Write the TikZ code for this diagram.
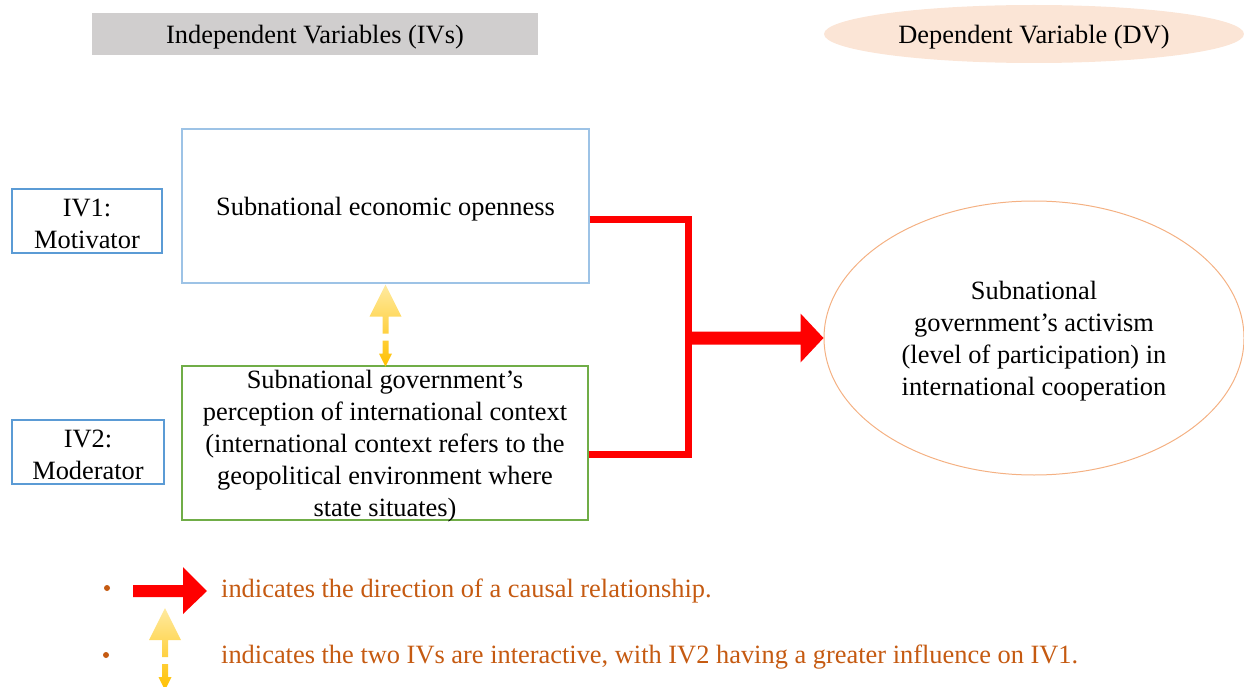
\documentclass[tikz,border=0pt]{standalone}
\usepackage{fontspec}
\setmainfont{Liberation Serif}
\usetikzlibrary{calc,shapes.geometric}
\definecolor{hdrgray}{RGB}{208,206,206}
\definecolor{peach}{RGB}{251,229,214}
\definecolor{bluebd}{RGB}{91,155,213}
\definecolor{lightbd}{RGB}{157,195,230}
\definecolor{greenbd}{RGB}{112,173,71}
\definecolor{orangebd}{RGB}{244,177,131}
\definecolor{redc}{RGB}{255,0,0}
\definecolor{legtext}{RGB}{197,90,17}
\definecolor{ylight}{RGB}{255,234,160}
\definecolor{ydark}{RGB}{255,192,0}
\begin{document}
\begin{tikzpicture}[x=1pt,y=-1pt,
  every node/.style={font=\fontsize{26.4}{32}\selectfont, align=center, inner sep=0pt},
  ivbox/.style={draw=bluebd, line width=1.5pt, rectangle, minimum width=150pt, minimum height=64pt},
  mainbox/.style={rectangle, line width=1.3pt, minimum width=407pt, minimum height=154pt},
  redline/.style={draw=redc, line width=7pt, line join=miter},
  legend/.style={anchor=west, text=legtext},
  yarrow/.pic={
    \shade[top color=ylight, bottom color=ydark]
      (0,0) -- (16,32) -- (3,32) -- (3,49) -- (-3,49) -- (-3,32) -- (-16,32) -- cycle
      (-3,56) -- (3,56) -- (3,69) -- (-3,69) -- cycle
      (-6.5,69) -- (6.5,69) -- (0,82) -- cycle;
  }]
\useasboundingbox (0,0) rectangle (1244,687);

% headers
\node[fill=hdrgray, minimum width=446pt, minimum height=42pt] (ivh) at (315,34) {};
\node (ivht) at ($(ivh)+(0,3)$) {Independent Variables (IVs)};
\node[ellipse, fill=peach, minimum width=420pt, minimum height=58pt] (dvh) at (1034,34) {};
\node (dvht) at ($(dvh)+(0,3)$) {Dependent Variable (DV)};

% label boxes
\node[ivbox] (iv1) at (87,221) {};
\node (iv1t) at ($(iv1)+(0,2.5)$) {IV1:\\Motivator};
\node[ivbox, minimum width=152pt] (iv2) at (88,452) {};
\node (iv2t) at ($(iv2)+(0,2.5)$) {IV2:\\Moderator};

% main boxes
\node[mainbox, draw=lightbd] (b1) at (385.5,206) {};
\node (b1t) at ($(b1)+(0,3.5)$) {Subnational economic openness};
\node[mainbox, draw=greenbd, minimum width=406pt] (b2) at (385,443) {};
\node (b2t) at ($(b2)+(0,3.5)$) {Subnational government’s\\perception of international context\\(international context refers to the\\geopolitical environment where\\state situates)};

% dependent variable
\node[ellipse, draw=orangebd, line width=1pt, minimum width=420pt, minimum height=274pt] (dv) at (1034,338) {};
\node (dvt) at ($(dv)+(0,3.5)$) {Subnational\\government’s activism\\(level of participation) in\\international cooperation};

% red connectors
\path (dv.west) ++(-135,0) coordinate (j);
\draw[redline] ($(b1.east)+(0,13.5)$) -| (j) |- ($(b2.east)+(0,11)$);
\fill[redc] ($(j)+(0,-6.5)$) -- ($(dv.west)+(-23,-6.5)$) -- ($(dv.west)+(-23,-24.5)$) -- (dv.west)
  -- ($(dv.west)+(-23,24.5)$) -- ($(dv.west)+(-23,6.5)$) -- ($(j)+(0,6.5)$) -- cycle;

% yellow interaction arrow
\path (b1.south) ++(0,1) pic {yarrow};

% legend
\fill[legtext] (107,588) circle[radius=3pt];
\fill[legtext] (106,655) circle[radius=3pt];
\coordinate (lr) at (133,591);
\fill[redc] ($(lr)+(0,-6)$) -- ($(lr)+(50,-6)$) -- ($(lr)+(50,-24)$) -- ($(lr)+(74,0)$)
  -- ($(lr)+(50,23)$) -- ($(lr)+(50,6)$) -- ($(lr)+(0,6)$) -- cycle;
\node[legend] (l1) at (221,591.5) {indicates the direction of a causal relationship.};
\path (165,608) pic {yarrow};
\node[legend] (l2) at (221,657.5) {indicates the two IVs are interactive, with IV2 having a greater influence on IV1.};
\end{tikzpicture}
\end{document}
